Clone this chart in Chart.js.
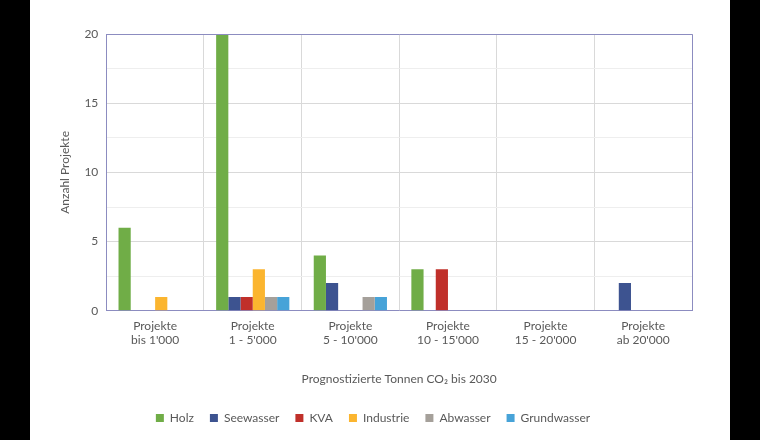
<!DOCTYPE html>
<html><head><meta charset="utf-8">
<script src="https://cdn.jsdelivr.net/npm/chart.js@4"></script>
<style>
html,body{margin:0;padding:0;background:#000;}
#wrap{position:absolute;left:30px;top:0;width:700px;height:440px;background:#fff;}
</style></head>
<body><div id="wrap"><canvas id="c" width="700" height="440"></canvas></div>
<script>
const categories = [["Projekte","bis 1'000"],["Projekte","1 - 5'000"],["Projekte","5 - 10'000"],["Projekte","10 - 15'000"],["Projekte","15 - 20'000"],["Projekte","ab 20'000"]];
const holz = [6,20,4,3,0,0];
const seewasser = [0,1,2,0,0,2];
const kva = [0,1,0,3,0,0];
const industrie = [1,3,0,0,0,0];
const abwasser = [0,1,1,0,0,0];
const grundwasser = [0,1,1,0,0,0];
const yTicks = [0,5,10,15,20];

const frame = {id:'frame',afterDraw(c){const a=c.chartArea,x=c.ctx;x.save();x.strokeStyle='#8c8cc0';x.lineWidth=1;x.beginPath();x.moveTo(a.left,a.top+0.5);x.lineTo(a.right+0.5,a.top+0.5);x.lineTo(a.right+0.5,a.bottom);x.stroke();x.restore();}};
Chart.defaults.font.family = 'Lato, "Open Sans", sans-serif';
Chart.defaults.color = '#595959';
const mk=(l,d,c)=>({label:l,data:d,backgroundColor:c,categoryPercentage:0.75,barPercentage:1});
new Chart(document.getElementById('c'),{
  type:'bar',
  data:{labels:categories,datasets:[
    mk('Holz',holz,'#70ad47'),mk('Seewasser',seewasser,'#3d5390'),mk('KVA',kva,'#c0302a'),
    mk('Industrie',industrie,'#fbb52f'),mk('Abwasser',abwasser,'#a5a09a'),mk('Grundwasser',grundwasser,'#47a3d8')]},
  options:{responsive:false,animation:false,
    layout:{padding:{left:24,right:38,top:34,bottom:6}},
    plugins:{legend:{position:'bottom',labels:{boxWidth:8,boxHeight:8,padding:16,font:{size:12}}},tooltip:{enabled:false}},
    scales:{
      x:{grid:{offset:true,color:'#d9d9d9',drawTicks:false},border:{color:'#8c8cc0'},
        ticks:{font:{size:12},padding:8},
        title:{display:true,text:'Prognostizierte Tonnen CO₂ bis 2030',font:{size:12},padding:{top:16,bottom:10}}},
      y:{min:0,max:20,afterBuildTicks(s){s.ticks=[0,2.5,5,7.5,10,12.5,15,17.5,20].map(v=>({value:v}));},
        grid:{color:ctx=>ctx.tick&&ctx.tick.value%5===0?'#d9d9d9':'#eeeeee',drawTicks:false},
        border:{color:'#8c8cc0'},
        ticks:{font:{size:12},padding:8,callback:v=>yTicks.includes(v)?v:''},
        title:{display:true,text:'Anzahl Projekte',font:{size:12},padding:{bottom:4}}}
    }},
  plugins:[frame]
});
</script></body></html>
